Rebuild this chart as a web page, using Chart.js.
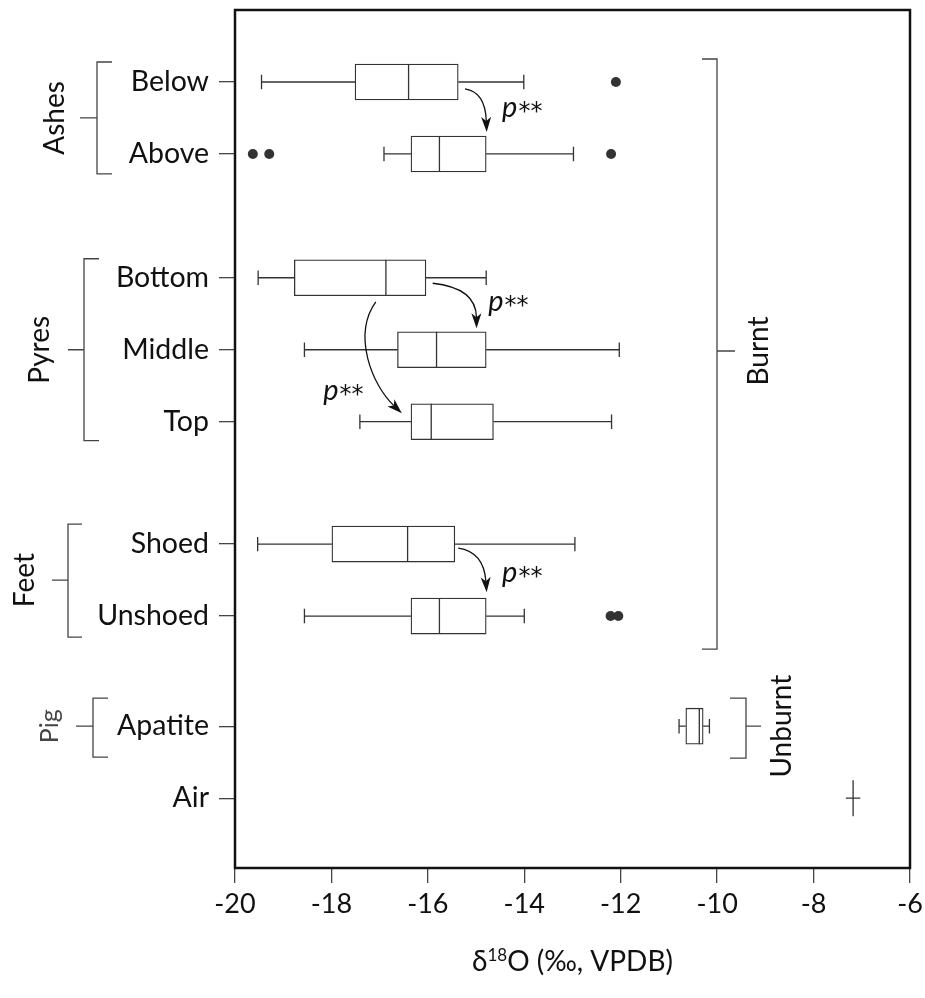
<!DOCTYPE html>
<html lang="en">
<head>
<meta charset="UTF-8">
<title>δ18O box plots</title>
<script src="https://cdn.jsdelivr.net/npm/chart.js"></script>
<style>
    html, body { margin: 0; padding: 0; background: #fff; }
    #wrap { width: 925px; height: 998px; }
</style>
</head>
<body>
<div id="wrap"><canvas id="boxChart" width="925" height="998"></canvas></div>
<script>
// rows, top to bottom
const rowLabels = ['Below', 'Above', 'Bottom', 'Middle', 'Top', 'Shoed', 'Unshoed', 'Apatite', 'Air'];
const rowPos = [1, 2, 3.72, 4.72, 5.72, 7.42, 8.42, 9.95, 10.95];

// box plot stats (per mil, VPDB)
const whiskerLow  = [-19.45, -16.91, -19.52, -18.56, -17.41, -19.53, -18.56, -10.79, -7.33];
const quart1      = [-17.51, -16.35, -18.77, -16.63, -16.35, -17.99, -16.35, -10.65, -7.18];
const median      = [-16.40, -15.76, -16.87, -15.82, -15.93, -16.42, -15.76, -10.37, -7.18];
const quart3      = [-15.37, -14.79, -16.04, -14.79, -14.64, -15.44, -14.79, -10.29, -7.18];
const whiskerHigh = [-14.01, -12.98, -14.79, -12.03, -12.19, -12.95, -14.00, -10.16, -7.03];
const outliers    = [[-12.10], [-19.63, -19.29, -12.20], [], [], [], [], [-12.21, -12.05], [], []];

const xTicks = [-20, -18, -16, -14, -12, -10, -8, -6];

// significance arrows (data units) and p** labels
const arrows = [
    { from: [-15.23, 1.097], c1: [-14.81, 1.139], to: [-14.78, 1.694] },
    { from: [-15.90, 3.796], c1: [-15.00, 3.861], to: [-14.99, 4.421] },
    { from: [-17.08, 4.056], c1: [-17.57, 4.514], c2: [-17.16, 5.208], to: [-16.54, 5.601] },
    { from: [-15.37, 7.476], c1: [-14.84, 7.528], to: [-14.78, 8.088] }
];
const pLabels = [[-14.46, 1.486], [-14.75, 4.181], [-18.17, 5.417], [-14.46, 7.944]];

const FONT = 'Lato, "Open Sans", sans-serif';
const LINE = '#333';

const boxData = rowPos.map((p, i) => ({ y: p, x: [quart1[i], quart3[i]] }));
const outlierData = [];
outliers.forEach((list, i) => list.forEach(v => outlierData.push({ x: v, y: rowPos[i] })));

// whiskers, staples, medians, arrows
const boxExtras = {
    id: 'boxExtras',
    afterDatasetsDraw(chart) {
        const { ctx, scales: { x, y } } = chart;
        ctx.save();
        ctx.strokeStyle = LINE;
        ctx.lineWidth = 1.3;
        rowPos.forEach((p, i) => {
            const yc = y.getPixelForValue(p);
            const half = Math.abs(y.getPixelForValue(p + 0.25) - yc);
            const cap = Math.abs(y.getPixelForValue(p + 0.1) - yc);
            const xl = x.getPixelForValue(whiskerLow[i]);
            const x1 = x.getPixelForValue(quart1[i]);
            const xm = x.getPixelForValue(median[i]);
            const x3 = x.getPixelForValue(quart3[i]);
            const xh = x.getPixelForValue(whiskerHigh[i]);
            ctx.beginPath();
            ctx.moveTo(xl, yc); ctx.lineTo(x1, yc);
            ctx.moveTo(x3, yc); ctx.lineTo(xh, yc);
            if (rowLabels[i] !== 'Air') {
                ctx.moveTo(xl, yc - cap); ctx.lineTo(xl, yc + cap);
                ctx.moveTo(xh, yc - cap); ctx.lineTo(xh, yc + cap);
            }
            ctx.moveTo(xm, yc - half); ctx.lineTo(xm, yc + half);
            ctx.stroke();
        });

        // arrows
        ctx.strokeStyle = '#111';
        ctx.fillStyle = '#111';
        ctx.lineWidth = 1.3;
        const px = pt => [x.getPixelForValue(pt[0]), y.getPixelForValue(pt[1])];
        arrows.forEach(a => {
            const s = px(a.from), e = px(a.to), c1 = px(a.c1);
            const c2 = a.c2 ? px(a.c2) : null;
            const last = c2 || c1;
            const ang = Math.atan2(e[1] - last[1], e[0] - last[0]);
            const L = 15, W = 5;
            const ex = e[0] - Math.cos(ang) * (L - 4), ey = e[1] - Math.sin(ang) * (L - 4);
            ctx.beginPath();
            ctx.moveTo(s[0], s[1]);
            if (c2) ctx.bezierCurveTo(c1[0], c1[1], c2[0], c2[1], ex, ey);
            else ctx.quadraticCurveTo(c1[0], c1[1], ex, ey);
            ctx.stroke();
            const bx = e[0] - Math.cos(ang) * L, by = e[1] - Math.sin(ang) * L;
            const nx = e[0] - Math.cos(ang) * (L - 4), ny = e[1] - Math.sin(ang) * (L - 4);
            ctx.beginPath();
            ctx.moveTo(e[0], e[1]);
            ctx.lineTo(bx - Math.sin(ang) * W, by + Math.cos(ang) * W);
            ctx.lineTo(nx, ny);
            ctx.lineTo(bx + Math.sin(ang) * W, by - Math.cos(ang) * W);
            ctx.closePath();
            ctx.fill();
        });

        ctx.textBaseline = 'alphabetic';
        ctx.textAlign = 'left';
        pLabels.forEach(l => {
            const [lx, ly] = px(l);
            ctx.font = 'italic 29px ' + FONT;
            ctx.fillText('p', lx, ly);
            const w = ctx.measureText('p').width;
            ctx.font = '24px "DejaVu Sans", sans-serif';
            ctx.fillText('**', lx + w + 1, ly + 2);
        });
        ctx.restore();
    }
};

// frame, group brackets, axis title
const decorations = {
    id: 'decorations',
    afterDraw(chart, args, opts) {
        const { ctx, chartArea: ca, scales: { y } } = chart;
        ctx.save();
        ctx.strokeStyle = '#111';
        ctx.lineWidth = 2.5;
        ctx.strokeRect(ca.left, ca.top, ca.right - ca.left, ca.bottom - ca.top);

        ctx.strokeStyle = '#444';
        ctx.lineWidth = 1.3;
        opts.groups.forEach(g => {
            const top = y.getPixelForValue(rowPos[g.first]) - g.ext[0];
            const bot = y.getPixelForValue(rowPos[g.last]) + g.ext[1];
            const mid = g.midY || (y.getPixelForValue(rowPos[g.first]) + y.getPixelForValue(rowPos[g.last])) / 2;
            ctx.beginPath();
            ctx.moveTo(g.x + g.arm, top); ctx.lineTo(g.x, top); ctx.lineTo(g.x, bot); ctx.lineTo(g.x + g.arm, bot);
            ctx.moveTo(g.x, mid); ctx.lineTo(g.x - g.tick, mid);
            ctx.stroke();
            ctx.save();
            ctx.translate(g.textX, g.textY || mid);
            ctx.rotate(-Math.PI / 2);
            ctx.font = g.size + 'px ' + FONT;
            ctx.fillStyle = g.color || '#111';
            ctx.textAlign = 'center';
            ctx.textBaseline = 'middle';
            ctx.fillText(g.label, 0, 0);
            ctx.restore();
        });

        // x axis title with superscript
        const cx = (ca.left + ca.right) / 2, base = 971;
        const parts = [['δ', 28, 0], ['18', 17, -10], ['O (‰, VPDB)', 28, 0]];
        let total = 0;
        parts.forEach(p => { ctx.font = p[1] + 'px ' + FONT; total += ctx.measureText(p[0]).width; });
        let cur = cx - total / 2;
        ctx.fillStyle = '#111';
        ctx.textAlign = 'left';
        ctx.textBaseline = 'alphabetic';
        parts.forEach(p => {
            ctx.font = p[1] + 'px ' + FONT;
            ctx.fillText(p[0], cur, base + p[2]);
            cur += ctx.measureText(p[0]).width;
        });
        ctx.restore();
    }
};

new Chart(document.getElementById('boxChart'), {
    type: 'scatter',
    data: {
        datasets: [
            {
                type: 'bar',
                indexAxis: 'y',
                data: boxData,
                backgroundColor: '#fff',
                borderColor: LINE,
                borderWidth: 1.3,
                borderSkipped: false,
                barThickness: 36,
                grouped: false
            },
            {
                type: 'scatter',
                data: outlierData,
                pointRadius: 5,
                pointBackgroundColor: '#333',
                pointBorderWidth: 0
            }
        ]
    },
    options: {
        responsive: false,
        animation: false,
        layout: { padding: { top: 10, right: 15, bottom: 0, left: 0 } },
        plugins: {
            legend: { display: false },
            tooltip: { enabled: false },
            decorations: {
                groups: [
                    { label: 'Ashes', first: 0, last: 1, ext: [20, 20], x: 97, arm: 15, tick: 17, textX: 55, size: 28 },
                    { label: 'Pyres', first: 2, last: 4, ext: [19, 19], x: 84, arm: 15, tick: 16, textX: 40, size: 28 },
                    { label: 'Feet', first: 5, last: 6, ext: [20, 21], x: 68, arm: 14, tick: 16, textX: 25, size: 28 },
                    { label: 'Pig', first: 7, last: 7, ext: [28, 31], x: 93, arm: 15, tick: 17, textX: 50, size: 25, color: '#444' },
                    { label: 'Burnt', first: 0, last: 6, ext: [23, 33], x: 717, arm: -15, tick: -18, textX: 759, midY: 351, size: 28 },
                    { label: 'Unburnt', first: 7, last: 7, ext: [28, 32], x: 746, arm: -16, tick: -15, textX: 782, size: 28 }
                ]
            }
        },
        scales: {
            x: {
                type: 'linear',
                min: -20,
                max: -6,
                offset: false,
                afterBuildTicks: s => { s.ticks = xTicks.map(v => ({ value: v })); },
                afterFit: s => { s.height = 130; s.paddingLeft = 0; s.paddingRight = 0; },
                ticks: {
                    font: { family: FONT, size: 27 },
                    color: '#111',
                    padding: 5,
                    maxRotation: 0,
                    autoSkip: false,
                    callback: v => String(v)
                },
                grid: { drawOnChartArea: false, offset: false, tickLength: 15, color: '#444', lineWidth: 1.3 },
                border: { display: false }
            },
            y: {
                type: 'linear',
                min: 0,
                max: 11.92,
                reverse: true,
                offset: false,
                afterBuildTicks: s => { s.ticks = rowPos.map(v => ({ value: v })); },
                afterFit: s => { s.width = 235; s.paddingTop = 0; s.paddingBottom = 0; },
                ticks: {
                    font: { family: FONT, size: 28.5 },
                    color: '#111',
                    padding: 10,
                    autoSkip: false,
                    callback: (v, i) => rowLabels[i]
                },
                grid: { drawOnChartArea: false, offset: false, tickLength: 16, color: '#444', lineWidth: 1.3 },
                border: { display: false }
            }
        }
    },
    plugins: [boxExtras, decorations]
});
</script>
</body>
</html>
